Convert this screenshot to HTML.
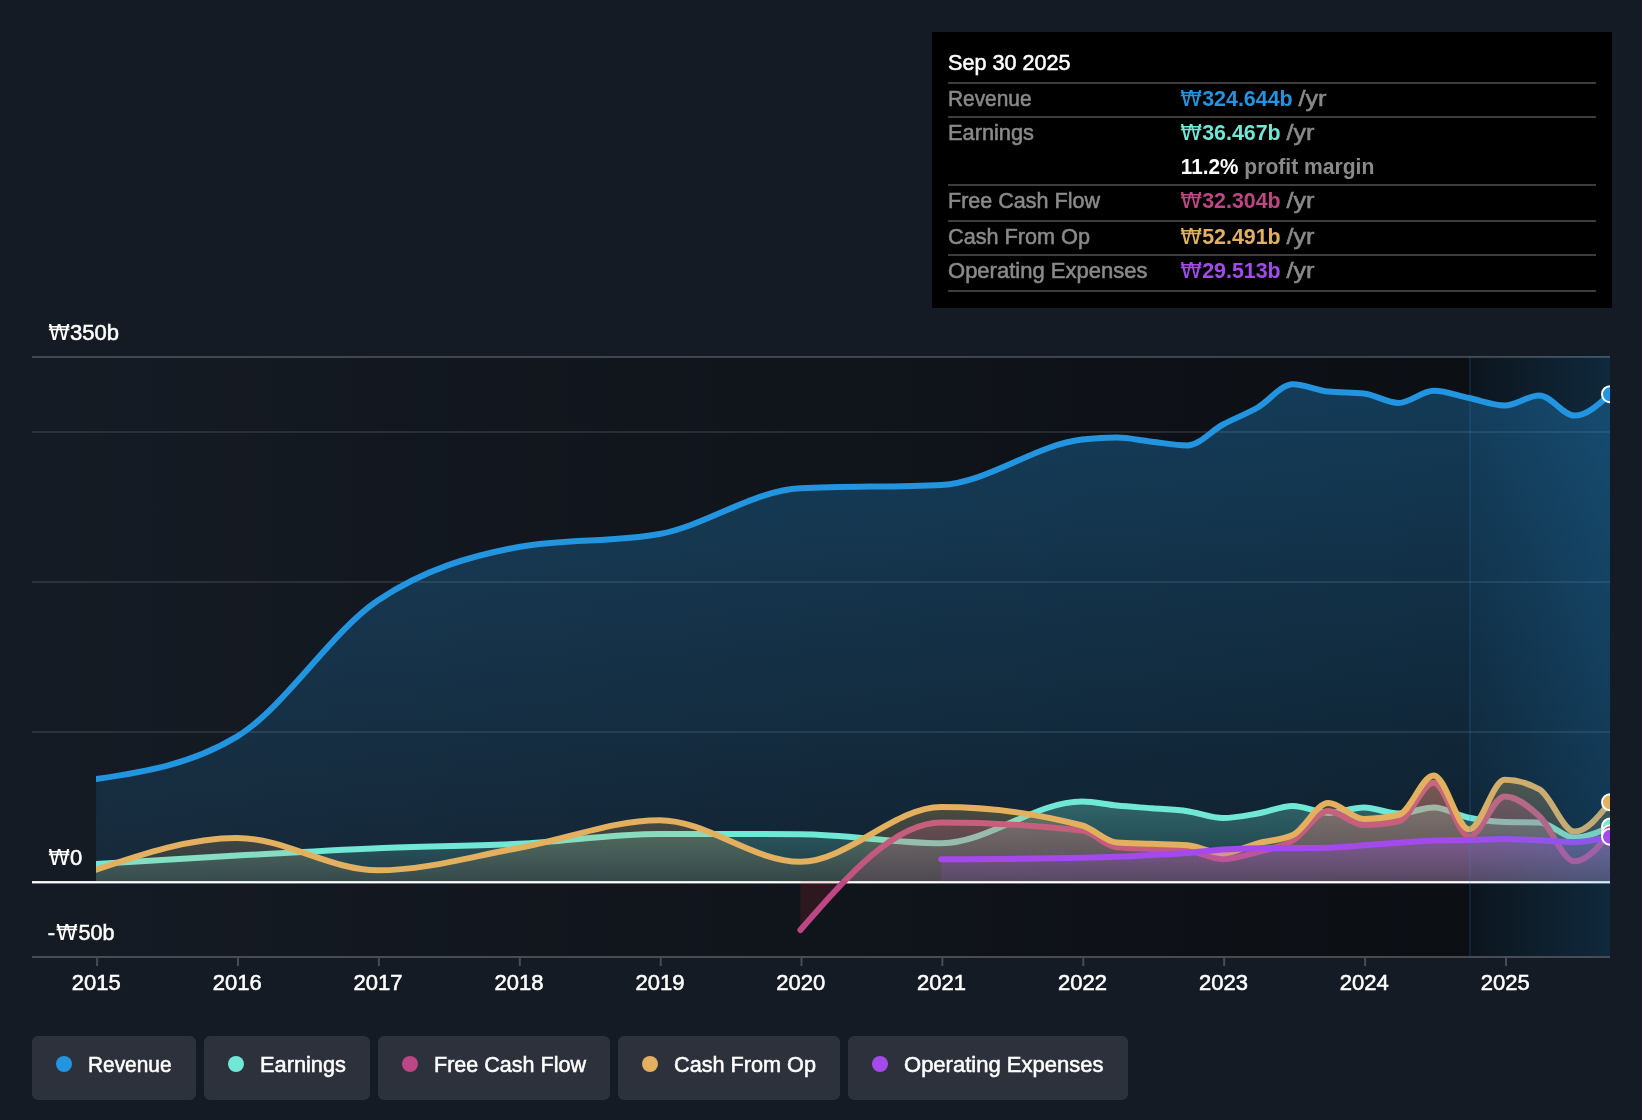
<!DOCTYPE html>
<html lang="en"><head><meta charset="utf-8"><title>Earnings and Revenue History</title>
<style>html,body{margin:0;padding:0;background:#151b24;}svg{display:block;will-change:transform;}text{font-family:"Liberation Sans",Arial,sans-serif;}</style></head><body>
<svg width="1642" height="1120" viewBox="0 0 1642 1120">
<defs>
<linearGradient id="bgd" x1="0" y1="0" x2="1" y2="0"><stop offset="0" stop-color="#000" stop-opacity="0"/><stop offset="1" stop-color="#000" stop-opacity="0.45"/></linearGradient>
<linearGradient id="hl" x1="0" y1="0" x2="1" y2="0"><stop offset="0" stop-color="#2394df" stop-opacity="0.05"/><stop offset="1" stop-color="#2394df" stop-opacity="0.20"/></linearGradient>
<linearGradient id="g_rev" x1="0" y1="0" x2="0" y2="1"><stop offset="0" stop-color="#2394df" stop-opacity="0.33"/><stop offset="1" stop-color="#2394df" stop-opacity="0.115"/></linearGradient>
<linearGradient id="g_ear" x1="0" y1="0" x2="0" y2="1"><stop offset="0" stop-color="#71e7d6" stop-opacity="0.33"/><stop offset="1" stop-color="#71e7d6" stop-opacity="0.115"/></linearGradient>
<linearGradient id="g_fcf" x1="0" y1="0" x2="0" y2="1"><stop offset="0" stop-color="#bd4785" stop-opacity="0.33"/><stop offset="1" stop-color="#bd4785" stop-opacity="0.115"/></linearGradient>
<linearGradient id="g_cfo" x1="0" y1="0" x2="0" y2="1"><stop offset="0" stop-color="#e3b060" stop-opacity="0.33"/><stop offset="1" stop-color="#e3b060" stop-opacity="0.115"/></linearGradient>
<linearGradient id="g_opx" x1="0" y1="0" x2="0" y2="1"><stop offset="0" stop-color="#a44aec" stop-opacity="0.33"/><stop offset="1" stop-color="#a44aec" stop-opacity="0.115"/></linearGradient>
<clipPath id="plot"><rect x="96" y="300" width="1514" height="700"/></clipPath>
<clipPath id="above"><rect x="0" y="300" width="1610" height="581.0"/></clipPath>
<clipPath id="below"><rect x="0" y="881.0" width="1610" height="200"/></clipPath>
</defs>
<rect x="0" y="0" width="1642" height="1120" fill="#151b24"/>
<rect x="32" y="357" width="1437.3" height="600" fill="url(#bgd)"/>
<rect x="1469.3" y="357" width="140.7" height="600" fill="#000" fill-opacity="0.45"/>
<rect x="32" y="356" width="1578" height="2" fill="#fff" fill-opacity="0.2"/>
<rect x="32" y="431" width="1578" height="2" fill="#fff" fill-opacity="0.1"/>
<rect x="32" y="581" width="1578" height="2" fill="#fff" fill-opacity="0.1"/>
<rect x="32" y="731" width="1578" height="2" fill="#fff" fill-opacity="0.1"/>
<rect x="32" y="956" width="1578" height="2" fill="#484c55"/>
<rect x="32" y="881.1" width="1578" height="2.3" fill="#ffffff"/>
<g clip-path="url(#plot)">
<path d="M96.10,779.10C143.05,772.02,190.01,764.93,236.96,736.60C283.91,708.27,330.87,632.10,377.82,600.50C424.77,568.90,471.73,555.67,518.68,547.00C565.63,538.33,612.59,542.67,659.54,534.00C706.49,525.33,753.45,490.57,800.40,488.30C847.35,486.03,894.31,487.17,941.26,484.90C988.21,482.63,1035.17,444.86,1082.12,439.60C1093.69,438.30,1105.27,437.50,1116.84,437.50C1128.55,437.50,1140.26,440.39,1151.97,441.70C1163.80,443.02,1175.64,445.40,1187.47,445.40C1199.31,445.40,1211.14,430.87,1222.98,424.50C1234.55,418.27,1246.13,414.15,1257.70,407.50C1269.41,400.77,1281.12,384.30,1292.83,384.30C1304.66,384.30,1316.50,390.33,1328.33,391.60C1340.17,392.87,1352.00,392.23,1363.84,393.50C1375.41,394.74,1386.99,402.90,1398.56,402.90C1410.27,402.90,1421.98,390.70,1433.69,390.70C1445.52,390.70,1457.36,395.55,1469.19,398.00C1481.03,400.45,1492.86,405.40,1504.70,405.40C1516.27,405.40,1527.85,395.40,1539.42,395.40C1551.13,395.40,1562.84,415.60,1574.55,415.60C1586.38,415.60,1598.22,404.90,1610.05,394.20L1610.05,881.00 L96.10,881.00 Z" fill="url(#g_rev)"/>
<path d="M96.10,779.10C143.05,772.02,190.01,764.93,236.96,736.60C283.91,708.27,330.87,632.10,377.82,600.50C424.77,568.90,471.73,555.67,518.68,547.00C565.63,538.33,612.59,542.67,659.54,534.00C706.49,525.33,753.45,490.57,800.40,488.30C847.35,486.03,894.31,487.17,941.26,484.90C988.21,482.63,1035.17,444.86,1082.12,439.60C1093.69,438.30,1105.27,437.50,1116.84,437.50C1128.55,437.50,1140.26,440.39,1151.97,441.70C1163.80,443.02,1175.64,445.40,1187.47,445.40C1199.31,445.40,1211.14,430.87,1222.98,424.50C1234.55,418.27,1246.13,414.15,1257.70,407.50C1269.41,400.77,1281.12,384.30,1292.83,384.30C1304.66,384.30,1316.50,390.33,1328.33,391.60C1340.17,392.87,1352.00,392.23,1363.84,393.50C1375.41,394.74,1386.99,402.90,1398.56,402.90C1410.27,402.90,1421.98,390.70,1433.69,390.70C1445.52,390.70,1457.36,395.55,1469.19,398.00C1481.03,400.45,1492.86,405.40,1504.70,405.40C1516.27,405.40,1527.85,395.40,1539.42,395.40C1551.13,395.40,1562.84,415.60,1574.55,415.60C1586.38,415.60,1598.22,404.90,1610.05,394.20" fill="none" stroke="#2394df" stroke-width="6" stroke-linecap="round" stroke-linejoin="round"/>
<path d="M96.10,864.00C143.05,861.12,190.01,858.23,236.96,855.60C283.91,852.97,330.87,850.17,377.82,848.20C424.77,846.23,471.73,846.17,518.68,843.80C565.63,841.43,612.59,834.00,659.54,834.00C706.49,834.00,753.45,834.07,800.40,834.20C847.35,834.33,894.31,843.20,941.26,843.20C988.21,843.20,1035.17,801.50,1082.12,801.50C1093.69,801.50,1105.27,804.37,1116.84,805.50C1128.55,806.64,1140.26,807.36,1151.97,808.30C1163.80,809.25,1175.64,809.58,1187.47,811.20C1199.31,812.82,1211.14,818.00,1222.98,818.00C1234.55,818.00,1246.13,815.48,1257.70,813.50C1269.41,811.49,1281.12,806.00,1292.83,806.00C1304.66,806.00,1316.50,812.90,1328.33,812.90C1340.17,812.90,1352.00,807.40,1363.84,807.40C1375.41,807.40,1386.99,813.60,1398.56,813.60C1410.27,813.60,1421.98,807.40,1433.69,807.40C1445.52,807.40,1457.36,815.37,1469.19,817.80C1481.03,820.23,1492.86,821.73,1504.70,822.00C1516.27,822.27,1527.85,822.13,1539.42,822.40C1551.13,822.67,1562.84,837.60,1574.55,837.60C1586.38,837.60,1598.22,832.10,1610.05,826.60L1610.05,881.00 L96.10,881.00 Z" fill="url(#g_ear)"/>
<path d="M96.10,864.00C143.05,861.12,190.01,858.23,236.96,855.60C283.91,852.97,330.87,850.17,377.82,848.20C424.77,846.23,471.73,846.17,518.68,843.80C565.63,841.43,612.59,834.00,659.54,834.00C706.49,834.00,753.45,834.07,800.40,834.20C847.35,834.33,894.31,843.20,941.26,843.20C988.21,843.20,1035.17,801.50,1082.12,801.50C1093.69,801.50,1105.27,804.37,1116.84,805.50C1128.55,806.64,1140.26,807.36,1151.97,808.30C1163.80,809.25,1175.64,809.58,1187.47,811.20C1199.31,812.82,1211.14,818.00,1222.98,818.00C1234.55,818.00,1246.13,815.48,1257.70,813.50C1269.41,811.49,1281.12,806.00,1292.83,806.00C1304.66,806.00,1316.50,812.90,1328.33,812.90C1340.17,812.90,1352.00,807.40,1363.84,807.40C1375.41,807.40,1386.99,813.60,1398.56,813.60C1410.27,813.60,1421.98,807.40,1433.69,807.40C1445.52,807.40,1457.36,815.37,1469.19,817.80C1481.03,820.23,1492.86,821.73,1504.70,822.00C1516.27,822.27,1527.85,822.13,1539.42,822.40C1551.13,822.67,1562.84,837.60,1574.55,837.60C1586.38,837.60,1598.22,832.10,1610.05,826.60" fill="none" stroke="#71e7d6" stroke-width="6" stroke-linecap="round" stroke-linejoin="round"/>
<g clip-path="url(#above)"><path d="M800.40,930.00C847.35,876.25,894.31,822.50,941.26,822.50C988.21,822.50,1035.17,825.20,1082.12,830.60C1093.69,831.93,1105.27,846.25,1116.84,847.30C1128.55,848.37,1140.26,848.37,1151.97,848.90C1163.80,849.44,1175.64,849.43,1187.47,850.50C1199.31,851.57,1211.14,859.20,1222.98,859.20C1234.55,859.20,1246.13,855.09,1257.70,852.00C1269.41,848.87,1281.12,847.25,1292.83,840.50C1304.66,833.68,1316.50,811.10,1328.33,811.10C1340.17,811.10,1352.00,825.00,1363.84,825.00C1375.41,825.00,1386.99,823.77,1398.56,821.30C1410.27,818.80,1421.98,782.70,1433.69,782.70C1445.52,782.70,1457.36,836.50,1469.19,836.50C1481.03,836.50,1492.86,796.40,1504.70,796.40C1516.27,796.40,1527.85,805.49,1539.42,816.20C1551.13,827.03,1562.84,861.30,1574.55,861.30C1586.38,861.30,1598.22,847.30,1610.05,833.30L1610.05,881.00 L800.40,881.00 Z" fill="url(#g_fcf)"/></g>
<g clip-path="url(#below)"><path d="M800.40,930.00C847.35,876.25,894.31,822.50,941.26,822.50C988.21,822.50,1035.17,825.20,1082.12,830.60C1093.69,831.93,1105.27,846.25,1116.84,847.30C1128.55,848.37,1140.26,848.37,1151.97,848.90C1163.80,849.44,1175.64,849.43,1187.47,850.50C1199.31,851.57,1211.14,859.20,1222.98,859.20C1234.55,859.20,1246.13,855.09,1257.70,852.00C1269.41,848.87,1281.12,847.25,1292.83,840.50C1304.66,833.68,1316.50,811.10,1328.33,811.10C1340.17,811.10,1352.00,825.00,1363.84,825.00C1375.41,825.00,1386.99,823.77,1398.56,821.30C1410.27,818.80,1421.98,782.70,1433.69,782.70C1445.52,782.70,1457.36,836.50,1469.19,836.50C1481.03,836.50,1492.86,796.40,1504.70,796.40C1516.27,796.40,1527.85,805.49,1539.42,816.20C1551.13,827.03,1562.84,861.30,1574.55,861.30C1586.38,861.30,1598.22,847.30,1610.05,833.30L1610.05,881.00 L800.40,881.00 Z" fill="#e0323c" fill-opacity="0.15"/></g>
<path d="M800.40,930.00C847.35,876.25,894.31,822.50,941.26,822.50C988.21,822.50,1035.17,825.20,1082.12,830.60C1093.69,831.93,1105.27,846.25,1116.84,847.30C1128.55,848.37,1140.26,848.37,1151.97,848.90C1163.80,849.44,1175.64,849.43,1187.47,850.50C1199.31,851.57,1211.14,859.20,1222.98,859.20C1234.55,859.20,1246.13,855.09,1257.70,852.00C1269.41,848.87,1281.12,847.25,1292.83,840.50C1304.66,833.68,1316.50,811.10,1328.33,811.10C1340.17,811.10,1352.00,825.00,1363.84,825.00C1375.41,825.00,1386.99,823.77,1398.56,821.30C1410.27,818.80,1421.98,782.70,1433.69,782.70C1445.52,782.70,1457.36,836.50,1469.19,836.50C1481.03,836.50,1492.86,796.40,1504.70,796.40C1516.27,796.40,1527.85,805.49,1539.42,816.20C1551.13,827.03,1562.84,861.30,1574.55,861.30C1586.38,861.30,1598.22,847.30,1610.05,833.30" fill="none" stroke="#bd4785" stroke-width="6" stroke-linecap="round" stroke-linejoin="round"/>
<path d="M96.10,869.60C143.05,853.75,190.01,837.90,236.96,837.90C283.91,837.90,330.87,870.30,377.82,870.30C424.77,870.30,471.73,856.35,518.68,848.00C565.63,839.65,612.59,820.20,659.54,820.20C706.49,820.20,753.45,861.80,800.40,861.80C847.35,861.80,894.31,807.00,941.26,807.00C988.21,807.00,1035.17,813.17,1082.12,825.50C1093.69,828.54,1105.27,841.81,1116.84,842.60C1128.55,843.40,1140.26,843.37,1151.97,843.80C1163.80,844.24,1175.64,844.27,1187.47,845.20C1199.31,846.13,1211.14,853.40,1222.98,853.40C1234.55,853.40,1246.13,846.35,1257.70,843.30C1269.41,840.21,1281.12,840.53,1292.83,835.00C1304.66,829.41,1316.50,803.00,1328.33,803.00C1340.17,803.00,1352.00,818.90,1363.84,818.90C1375.41,818.90,1386.99,817.60,1398.56,815.00C1410.27,812.37,1421.98,775.40,1433.69,775.40C1445.52,775.40,1457.36,829.40,1469.19,829.40C1481.03,829.40,1492.86,779.80,1504.70,779.80C1516.27,779.80,1527.85,782.97,1539.42,789.30C1551.13,795.71,1562.84,831.60,1574.55,831.60C1586.38,831.60,1598.22,816.95,1610.05,802.30L1610.05,881.00 L96.10,881.00 Z" fill="url(#g_cfo)"/>
<path d="M96.10,869.60C143.05,853.75,190.01,837.90,236.96,837.90C283.91,837.90,330.87,870.30,377.82,870.30C424.77,870.30,471.73,856.35,518.68,848.00C565.63,839.65,612.59,820.20,659.54,820.20C706.49,820.20,753.45,861.80,800.40,861.80C847.35,861.80,894.31,807.00,941.26,807.00C988.21,807.00,1035.17,813.17,1082.12,825.50C1093.69,828.54,1105.27,841.81,1116.84,842.60C1128.55,843.40,1140.26,843.37,1151.97,843.80C1163.80,844.24,1175.64,844.27,1187.47,845.20C1199.31,846.13,1211.14,853.40,1222.98,853.40C1234.55,853.40,1246.13,846.35,1257.70,843.30C1269.41,840.21,1281.12,840.53,1292.83,835.00C1304.66,829.41,1316.50,803.00,1328.33,803.00C1340.17,803.00,1352.00,818.90,1363.84,818.90C1375.41,818.90,1386.99,817.60,1398.56,815.00C1410.27,812.37,1421.98,775.40,1433.69,775.40C1445.52,775.40,1457.36,829.40,1469.19,829.40C1481.03,829.40,1492.86,779.80,1504.70,779.80C1516.27,779.80,1527.85,782.97,1539.42,789.30C1551.13,795.71,1562.84,831.60,1574.55,831.60C1586.38,831.60,1598.22,816.95,1610.05,802.30" fill="none" stroke="#e3b060" stroke-width="6" stroke-linecap="round" stroke-linejoin="round"/>
<path d="M941.26,859.20C988.21,858.95,1035.17,858.70,1082.12,857.70C1093.69,857.45,1105.27,857.15,1116.84,856.70C1128.55,856.25,1140.26,855.61,1151.97,855.00C1163.80,854.38,1175.64,853.92,1187.47,853.00C1199.31,852.08,1211.14,850.30,1222.98,849.50C1234.55,848.72,1246.13,848.33,1257.70,848.20C1269.41,848.07,1281.12,848.08,1292.83,848.00C1304.66,847.92,1316.50,847.90,1328.33,847.70C1340.17,847.50,1352.00,846.13,1363.84,845.30C1375.41,844.49,1386.99,843.60,1398.56,842.80C1410.27,841.99,1421.98,840.83,1433.69,840.50C1445.52,840.17,1457.36,840.27,1469.19,840.00C1481.03,839.73,1492.86,838.90,1504.70,838.90C1516.27,838.90,1527.85,839.79,1539.42,840.30C1551.13,840.82,1562.84,842.00,1574.55,842.00C1586.38,842.00,1598.22,839.35,1610.05,836.70L1610.05,881.00 L941.26,881.00 Z" fill="url(#g_opx)"/>
<path d="M941.26,859.20C988.21,858.95,1035.17,858.70,1082.12,857.70C1093.69,857.45,1105.27,857.15,1116.84,856.70C1128.55,856.25,1140.26,855.61,1151.97,855.00C1163.80,854.38,1175.64,853.92,1187.47,853.00C1199.31,852.08,1211.14,850.30,1222.98,849.50C1234.55,848.72,1246.13,848.33,1257.70,848.20C1269.41,848.07,1281.12,848.08,1292.83,848.00C1304.66,847.92,1316.50,847.90,1328.33,847.70C1340.17,847.50,1352.00,846.13,1363.84,845.30C1375.41,844.49,1386.99,843.60,1398.56,842.80C1410.27,841.99,1421.98,840.83,1433.69,840.50C1445.52,840.17,1457.36,840.27,1469.19,840.00C1481.03,839.73,1492.86,838.90,1504.70,838.90C1516.27,838.90,1527.85,839.79,1539.42,840.30C1551.13,840.82,1562.84,842.00,1574.55,842.00C1586.38,842.00,1598.22,839.35,1610.05,836.70" fill="none" stroke="#a44aec" stroke-width="6" stroke-linecap="round" stroke-linejoin="round"/>
<rect x="1469.3" y="356" width="140.7" height="600" fill="url(#hl)"/>
<rect x="1469" y="356" width="2" height="600" fill="#2394df" fill-opacity="0.13"/>
<circle cx="1610.0" cy="394.2" r="8" fill="#2394df" stroke="#fff" stroke-width="2"/>
<circle cx="1610.0" cy="826.6" r="8" fill="#71e7d6" stroke="#fff" stroke-width="2"/>
<circle cx="1610.0" cy="833.3" r="8" fill="#bd4785" stroke="#fff" stroke-width="2"/>
<circle cx="1610.0" cy="802.3" r="8" fill="#e3b060" stroke="#fff" stroke-width="2"/>
<circle cx="1610.0" cy="836.7" r="8" fill="#a44aec" stroke="#fff" stroke-width="2"/>
</g>
<rect x="96.1" y="958" width="2" height="8" fill="#484c55"/>
<text x="96.3" y="990.0" font-size="22" fill="#fff" stroke="#fff" stroke-width="0.55" text-anchor="middle">2015</text>
<rect x="237.0" y="958" width="2" height="8" fill="#484c55"/>
<text x="237.2" y="990.0" font-size="22" fill="#fff" stroke="#fff" stroke-width="0.55" text-anchor="middle">2016</text>
<rect x="377.9" y="958" width="2" height="8" fill="#484c55"/>
<text x="378.1" y="990.0" font-size="22" fill="#fff" stroke="#fff" stroke-width="0.55" text-anchor="middle">2017</text>
<rect x="518.8" y="958" width="2" height="8" fill="#484c55"/>
<text x="519.0" y="990.0" font-size="22" fill="#fff" stroke="#fff" stroke-width="0.55" text-anchor="middle">2018</text>
<rect x="659.7" y="958" width="2" height="8" fill="#484c55"/>
<text x="659.9" y="990.0" font-size="22" fill="#fff" stroke="#fff" stroke-width="0.55" text-anchor="middle">2019</text>
<rect x="800.5" y="958" width="2" height="8" fill="#484c55"/>
<text x="800.8" y="990.0" font-size="22" fill="#fff" stroke="#fff" stroke-width="0.55" text-anchor="middle">2020</text>
<rect x="941.4" y="958" width="2" height="8" fill="#484c55"/>
<text x="941.6" y="990.0" font-size="22" fill="#fff" stroke="#fff" stroke-width="0.55" text-anchor="middle">2021</text>
<rect x="1082.3" y="958" width="2" height="8" fill="#484c55"/>
<text x="1082.5" y="990.0" font-size="22" fill="#fff" stroke="#fff" stroke-width="0.55" text-anchor="middle">2022</text>
<rect x="1223.2" y="958" width="2" height="8" fill="#484c55"/>
<text x="1223.4" y="990.0" font-size="22" fill="#fff" stroke="#fff" stroke-width="0.55" text-anchor="middle">2023</text>
<rect x="1364.1" y="958" width="2" height="8" fill="#484c55"/>
<text x="1364.3" y="990.0" font-size="22" fill="#fff" stroke="#fff" stroke-width="0.55" text-anchor="middle">2024</text>
<rect x="1505.0" y="958" width="2" height="8" fill="#484c55"/>
<text x="1505.2" y="990.0" font-size="22" fill="#fff" stroke="#fff" stroke-width="0.55" text-anchor="middle">2025</text>
<text x="48.2" y="340.0" font-size="22" fill="#fff" style="font-family:'DejaVu Sans',sans-serif">₩</text>
<text x="70.0" y="340.0" font-size="22" fill="#fff" stroke="#fff" stroke-width="0.55" textLength="49.0" lengthAdjust="spacingAndGlyphs">350b</text>
<text x="48.2" y="865.0" font-size="22" fill="#fff" style="font-family:'DejaVu Sans',sans-serif">₩</text>
<text x="70.0" y="865.0" font-size="22" fill="#fff" stroke="#fff" stroke-width="0.55">0</text>
<text x="47.8" y="940.0" font-size="22" fill="#fff" stroke="#fff" stroke-width="0.55">-</text>
<text x="56.0" y="940.0" font-size="22" fill="#fff" style="font-family:'DejaVu Sans',sans-serif">₩</text>
<text x="78.4" y="940.0" font-size="22" fill="#fff" stroke="#fff" stroke-width="0.55" textLength="36.0" lengthAdjust="spacingAndGlyphs">50b</text>
<rect x="32" y="1036" width="164" height="64" rx="6" fill="#2c313b"/>
<circle cx="64" cy="1064" r="8" fill="#2394df"/>
<text x="88.0" y="1072.0" font-size="22" fill="#fff" stroke="#fff" stroke-width="0.55" textLength="83.5" lengthAdjust="spacingAndGlyphs">Revenue</text>
<rect x="204" y="1036" width="166" height="64" rx="6" fill="#2c313b"/>
<circle cx="236" cy="1064" r="8" fill="#71e7d6"/>
<text x="260.0" y="1072.0" font-size="22" fill="#fff" stroke="#fff" stroke-width="0.55" textLength="86.0" lengthAdjust="spacingAndGlyphs">Earnings</text>
<rect x="378" y="1036" width="232" height="64" rx="6" fill="#2c313b"/>
<circle cx="410" cy="1064" r="8" fill="#bd4785"/>
<text x="434.0" y="1072.0" font-size="22" fill="#fff" stroke="#fff" stroke-width="0.55" textLength="152.0" lengthAdjust="spacingAndGlyphs">Free Cash Flow</text>
<rect x="618" y="1036" width="222" height="64" rx="6" fill="#2c313b"/>
<circle cx="650" cy="1064" r="8" fill="#e3b060"/>
<text x="674.0" y="1072.0" font-size="22" fill="#fff" stroke="#fff" stroke-width="0.55" textLength="142.0" lengthAdjust="spacingAndGlyphs">Cash From Op</text>
<rect x="848" y="1036" width="280" height="64" rx="6" fill="#2c313b"/>
<circle cx="880" cy="1064" r="8" fill="#a44aec"/>
<text x="904.0" y="1072.0" font-size="22" fill="#fff" stroke="#fff" stroke-width="0.55" textLength="199.5" lengthAdjust="spacingAndGlyphs">Operating Expenses</text>
<rect x="932" y="32" width="680" height="276" fill="#000"/>
<rect x="948" y="82" width="648" height="2" fill="#3d3d3d"/>
<rect x="948" y="116" width="648" height="2" fill="#3d3d3d"/>
<rect x="948" y="184" width="648" height="2" fill="#3d3d3d"/>
<rect x="948" y="220" width="648" height="2" fill="#3d3d3d"/>
<rect x="948" y="254" width="648" height="2" fill="#3d3d3d"/>
<rect x="948" y="290" width="648" height="2" fill="#3d3d3d"/>
<text x="948.0" y="70.0" font-size="22" fill="#fff" stroke="#fff" stroke-width="0.55" textLength="122.5" lengthAdjust="spacingAndGlyphs">Sep 30 2025</text>
<text x="948.0" y="106.0" font-size="22" fill="#8a8a8a" stroke="#8a8a8a" stroke-width="0.55" textLength="83.5" lengthAdjust="spacingAndGlyphs">Revenue</text>
<text x="1180.3" y="106.0" font-size="22" fill="#2394df" style="font-family:'DejaVu Sans',sans-serif">₩</text>
<text x="1202.2" y="106.0" font-size="22" fill="#2394df" font-weight="bold" textLength="90.5" lengthAdjust="spacingAndGlyphs">324.644b</text>
<text x="1298.5" y="106.0" font-size="22" fill="#8a8a8a" stroke="#8a8a8a" stroke-width="0.55" textLength="28.0" lengthAdjust="spacingAndGlyphs">/yr</text>
<text x="948.0" y="140.0" font-size="22" fill="#8a8a8a" stroke="#8a8a8a" stroke-width="0.55" textLength="86.0" lengthAdjust="spacingAndGlyphs">Earnings</text>
<text x="1180.3" y="140.0" font-size="22" fill="#71e7d6" style="font-family:'DejaVu Sans',sans-serif">₩</text>
<text x="1202.2" y="140.0" font-size="22" fill="#71e7d6" font-weight="bold" textLength="78.5" lengthAdjust="spacingAndGlyphs">36.467b</text>
<text x="1286.5" y="140.0" font-size="22" fill="#8a8a8a" stroke="#8a8a8a" stroke-width="0.55" textLength="28.0" lengthAdjust="spacingAndGlyphs">/yr</text>
<text x="948.0" y="208.0" font-size="22" fill="#8a8a8a" stroke="#8a8a8a" stroke-width="0.55" textLength="152.0" lengthAdjust="spacingAndGlyphs">Free Cash Flow</text>
<text x="1180.3" y="208.0" font-size="22" fill="#bd4785" style="font-family:'DejaVu Sans',sans-serif">₩</text>
<text x="1202.2" y="208.0" font-size="22" fill="#bd4785" font-weight="bold" textLength="78.5" lengthAdjust="spacingAndGlyphs">32.304b</text>
<text x="1286.5" y="208.0" font-size="22" fill="#8a8a8a" stroke="#8a8a8a" stroke-width="0.55" textLength="28.0" lengthAdjust="spacingAndGlyphs">/yr</text>
<text x="948.0" y="244.0" font-size="22" fill="#8a8a8a" stroke="#8a8a8a" stroke-width="0.55" textLength="142.0" lengthAdjust="spacingAndGlyphs">Cash From Op</text>
<text x="1180.3" y="244.0" font-size="22" fill="#e3b060" style="font-family:'DejaVu Sans',sans-serif">₩</text>
<text x="1202.2" y="244.0" font-size="22" fill="#e3b060" font-weight="bold" textLength="78.5" lengthAdjust="spacingAndGlyphs">52.491b</text>
<text x="1286.5" y="244.0" font-size="22" fill="#8a8a8a" stroke="#8a8a8a" stroke-width="0.55" textLength="28.0" lengthAdjust="spacingAndGlyphs">/yr</text>
<text x="948.0" y="278.0" font-size="22" fill="#8a8a8a" stroke="#8a8a8a" stroke-width="0.55" textLength="199.5" lengthAdjust="spacingAndGlyphs">Operating Expenses</text>
<text x="1180.3" y="278.0" font-size="22" fill="#a44aec" style="font-family:'DejaVu Sans',sans-serif">₩</text>
<text x="1202.2" y="278.0" font-size="22" fill="#a44aec" font-weight="bold" textLength="78.5" lengthAdjust="spacingAndGlyphs">29.513b</text>
<text x="1286.5" y="278.0" font-size="22" fill="#8a8a8a" stroke="#8a8a8a" stroke-width="0.55" textLength="28.0" lengthAdjust="spacingAndGlyphs">/yr</text>
<text x="1180.8" y="174.0" font-size="22" fill="#fff" font-weight="bold" textLength="57.5" lengthAdjust="spacingAndGlyphs">11.2%</text>
<text x="1244.3" y="174.0" font-size="22" fill="#8a8a8a" font-weight="bold" textLength="130.0" lengthAdjust="spacingAndGlyphs">profit margin</text>
</svg></body></html>
